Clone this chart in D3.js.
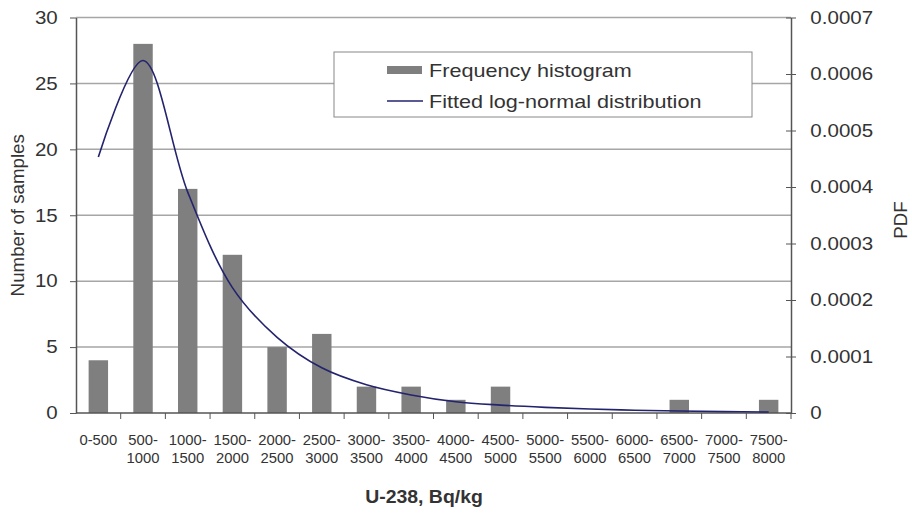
<!DOCTYPE html>
<html>
<head>
<meta charset="utf-8">
<script src="https://cdn.jsdelivr.net/npm/d3@7"></script>
<style>
  body { margin: 0; background: #fff; }
  svg text { font-family: "Liberation Sans", Arial, sans-serif; fill: #333; }
</style>
</head>
<body>
<div class="container"></div>
<script>
// bins of U-238 activity, Bq/kg
const categories = ["0-500", "500-1000", "1000-1500", "1500-2000", "2000-2500", "2500-3000",
  "3000-3500", "3500-4000", "4000-4500", "4500-5000", "5000-5500", "5500-6000",
  "6000-6500", "6500-7000", "7000-7500", "7500-8000"];

// frequency histogram (left axis)
const counts = [4, 28, 17, 12, 5, 6, 2, 2, 1, 2, 0, 0, 0, 1, 0, 1];

// fitted log-normal pdf, read at bin centres (right axis)
const pdfValues = [0.000453, 0.000624, 0.000391, 0.000222, 0.000134, 0.000080, 0.000050,
  0.000032, 0.000020, 0.000014, 0.000010, 0.000007, 0.000005, 0.0000035, 0.0000025, 0.0000018];

const countTicks = [0, 5, 10, 15, 20, 25, 30];
const pdfTicks = [0, 0.0001, 0.0002, 0.0003, 0.0004, 0.0005, 0.0006, 0.0007];

const W = 912, H = 521;
const plot = { left: 76, right: 791, top: 17.5, bottom: 413 };
const stretch = "scale(1.14,1)";

const svg = d3.select(".container").append("svg")
  .attr("width", W).attr("height", H);

const x = d3.scaleBand().domain(categories).range([plot.left, plot.right]).padding(0);
const y = d3.scaleLinear().domain([0, 30]).range([plot.bottom, plot.top]);
const y2 = d3.scaleLinear().domain([0, 0.0007]).range([plot.bottom, plot.top]);

// gridlines
svg.append("g")
  .selectAll("line")
  .data(countTicks.slice(1))
  .enter()
  .append("line")
  .attr("x1", plot.left).attr("x2", plot.right)
  .attr("y1", d => y(d)).attr("y2", d => y(d))
  .attr("stroke", "#a6a6a6")
  .attr("stroke-width", 1.5);

// bars (gap width like excel's 130%)
const barW = x.bandwidth() / 2.3;
svg.append("g")
  .selectAll("rect")
  .data(counts)
  .enter()
  .append("rect")
  .attr("x", (d, i) => x(categories[i]) + (x.bandwidth() - barW) / 2)
  .attr("y", d => y(d))
  .attr("width", barW)
  .attr("height", d => plot.bottom - y(d))
  .attr("fill", "#7f7f7f");

// left axis
const yAxis = svg.append("g")
  .attr("transform", `translate(${plot.left},0)`)
  .call(d3.axisLeft(y).tickValues(countTicks).tickSize(6).tickPadding(10).tickSizeOuter(0));
yAxis.select(".domain").attr("stroke", "#555").attr("stroke-width", 1.5);
yAxis.selectAll(".tick line").attr("stroke", "#555");
yAxis.selectAll("text").attr("font-size", 18).attr("fill", "#333").attr("transform", stretch);

// right axis
const y2Axis = svg.append("g")
  .attr("transform", `translate(${plot.right},0)`)
  .call(d3.axisRight(y2).tickValues(pdfTicks).tickFormat(d => d === 0 ? "0" : d3.format(".4f")(d))
    .tickSize(5).tickPadding(12).tickSizeOuter(0));
y2Axis.select(".domain").attr("stroke", "#555").attr("stroke-width", 1.5);
y2Axis.selectAll(".tick line").attr("x1", -5).attr("stroke", "#555");
y2Axis.selectAll("text").attr("font-size", 18).attr("fill", "#333").attr("transform", stretch);

// bottom axis line and tick marks at bin boundaries
svg.append("line")
  .attr("x1", plot.left).attr("x2", plot.right)
  .attr("y1", plot.bottom).attr("y2", plot.bottom)
  .attr("stroke", "#555").attr("stroke-width", 1.5);
svg.append("g")
  .selectAll("line")
  .data(categories.slice(1).concat([null]))
  .enter()
  .append("line")
  .attr("x1", d => d ? x(d) : plot.right)
  .attr("x2", d => d ? x(d) : plot.right)
  .attr("y1", plot.bottom).attr("y2", plot.bottom + 6)
  .attr("stroke", "#555");

// category labels, split on the dash into two lines
const xl = svg.append("g")
  .selectAll("text")
  .data(categories)
  .enter()
  .append("text")
  .attr("transform", d => `translate(${x(d) + x.bandwidth() / 2},445) scale(1.06,1)`)
  .attr("text-anchor", "middle")
  .attr("font-size", 14);
xl.each(function (d) {
  const parts = d.split("-");
  const t = d3.select(this);
  if (parts[0] === "0") {
    t.append("tspan").attr("x", 0).attr("y", 0).text(d);
  } else {
    t.append("tspan").attr("x", 0).attr("y", 0).text(parts[0] + "-");
    t.append("tspan").attr("x", 0).attr("y", 18).text(parts[1]);
  }
});

// fitted curve
const line = d3.line()
  .x((d, i) => x(categories[i]) + x.bandwidth() / 2)
  .y(d => y2(d))
  .curve(d3.curveCatmullRom.alpha(0.5));

svg.append("path")
  .datum(pdfValues)
  .attr("d", line)
  .attr("fill", "none")
  .attr("stroke", "#23236e")
  .attr("stroke-width", 1.6);

// axis titles
svg.append("text")
  .attr("transform", `translate(24,${(plot.top + plot.bottom) / 2}) rotate(-90) scale(1.04,1)`)
  .attr("text-anchor", "middle")
  .attr("font-size", 18)
  .text("Number of samples");

svg.append("text")
  .attr("transform", `translate(907,220) rotate(-90) scale(1.04,1)`)
  .attr("text-anchor", "middle")
  .attr("font-size", 18)
  .text("PDF");

svg.append("text")
  .attr("transform", `translate(424,503) scale(1.08,1)`)
  .attr("text-anchor", "middle")
  .attr("font-size", 18)
  .attr("font-weight", "bold")
  .text("U-238, Bq/kg");

// legend
const legend = svg.append("g");
legend.append("rect")
  .attr("x", 334).attr("y", 52)
  .attr("width", 418).attr("height", 65)
  .attr("fill", "#fff")
  .attr("stroke", "#888");
legend.append("rect")
  .attr("x", 387).attr("y", 66)
  .attr("width", 35).attr("height", 8)
  .attr("fill", "#7f7f7f");
legend.append("line")
  .attr("x1", 387).attr("x2", 423)
  .attr("y1", 101).attr("y2", 101)
  .attr("stroke", "#23236e").attr("stroke-width", 1.6);
legend.append("text")
  .attr("transform", "translate(429,77) scale(1.2,1)")
  .attr("font-size", 18)
  .text("Frequency histogram");
legend.append("text")
  .attr("transform", "translate(429,108) scale(1.2,1)")
  .attr("font-size", 18)
  .text("Fitted log-normal distribution");
</script>
</body>
</html>
